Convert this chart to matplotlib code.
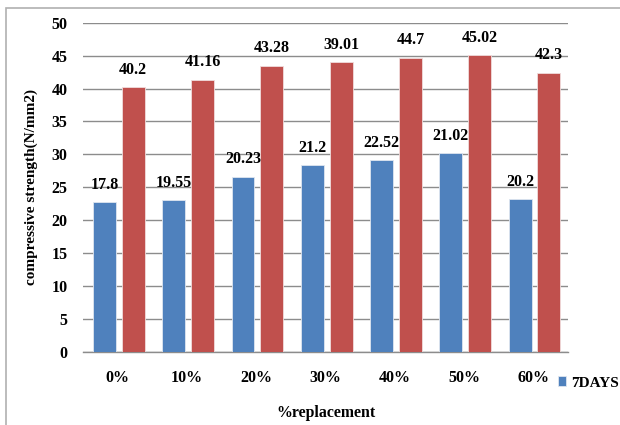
import matplotlib.pyplot as plt
import numpy as np
from matplotlib.patches import Rectangle

# replacement levels and the two strength series
categories = ["0%", "10%", "20%", "30%", "40%", "50%", "60%"]
days7 = [22.75, 23.05, 26.6, 28.4, 29.1, 30.2, 23.2]
days28 = [40.25, 41.35, 43.45, 44.0, 44.7, 45.05, 42.4]
days7_labels = ["17.8", "19.55", "20.23", "21.2", "22.52", "21.02", "20.2"]
days28_labels = ["40.2", "41.16", "43.28", "39.01", "44.7", "45.02", "42.3"]

plt.rcParams['font.family'] = ['Liberation Serif', 'DejaVu Serif']
plt.rcParams['font.weight'] = 'bold'

fig = plt.figure(figsize=(6.2, 4.25), dpi=100)
ax = fig.add_axes([0.1339, 0.1718, 0.7822, 0.7748])

# outer chart frame
fig.patches.append(Rectangle((6 / 620, -0.1), 1.2, (425 - 8) / 425 + 0.1,
                             transform=fig.transFigure, fill=False,
                             edgecolor='#b0b0b0', linewidth=1.2))

x = np.arange(len(categories))
w = 0.33
blue = ax.bar(x - 0.19, days7, w, color='#4F81BD', edgecolor='#dfe6f0',
              linewidth=0.6, label='7DAYS', zorder=3)
red = ax.bar(x + 0.225, days28, w, color='#C0504D', edgecolor='#f0dcdc',
             linewidth=0.6, zorder=3)

for b, t in zip(blue, days7_labels):
    ax.annotate(t, (b.get_x() + b.get_width() / 2, b.get_height()),
                xytext=(0, 12.5), textcoords='offset points', ha='center',
                va='center', fontsize=11.5, fontweight='bold')
for b, t in zip(red, days28_labels):
    ax.annotate(t, (b.get_x() + b.get_width() / 2, b.get_height()),
                xytext=(0, 12.5), textcoords='offset points', ha='center',
                va='center', fontsize=11.5, fontweight='bold')

ax.set_xlim(-0.5, len(categories) - 0.5)
ax.set_ylim(0, 50)
ax.set_yticks(range(0, 51, 5))
ax.set_xticks(x)
ax.set_xticklabels(categories)
ax.tick_params(axis='x', length=0, pad=13, labelsize=11.5)
ax.tick_params(axis='y', length=0, pad=11, labelsize=11.5)

ax.grid(axis='y', color='#8c8c8c', linewidth=1.0, zorder=0)
ax.set_axisbelow(True)
for s in ['top', 'right', 'left']:
    ax.spines[s].set_visible(False)
ax.spines['bottom'].set_color('#8c8c8c')
ax.spines['bottom'].set_linewidth(1.0)

ax.set_ylabel('compressive strength(N/mm2)', fontsize=11, fontweight='bold')
ax.yaxis.set_label_coords(-0.092, 0.5)
ax.set_xlabel('%replacement', fontsize=11.4, fontweight='bold')
ax.xaxis.set_label_coords(0.5, -0.162)

# single legend entry in the bottom right corner
fig.legend(handles=[blue], loc='center left',
           bbox_to_anchor=(558 / 620, (425 - 383) / 425), frameon=False,
           fontsize=11, handlelength=0.55, handleheight=0.55,
           handletextpad=0.3, borderaxespad=0, borderpad=0)

fig.savefig('out.png', dpi=100)
